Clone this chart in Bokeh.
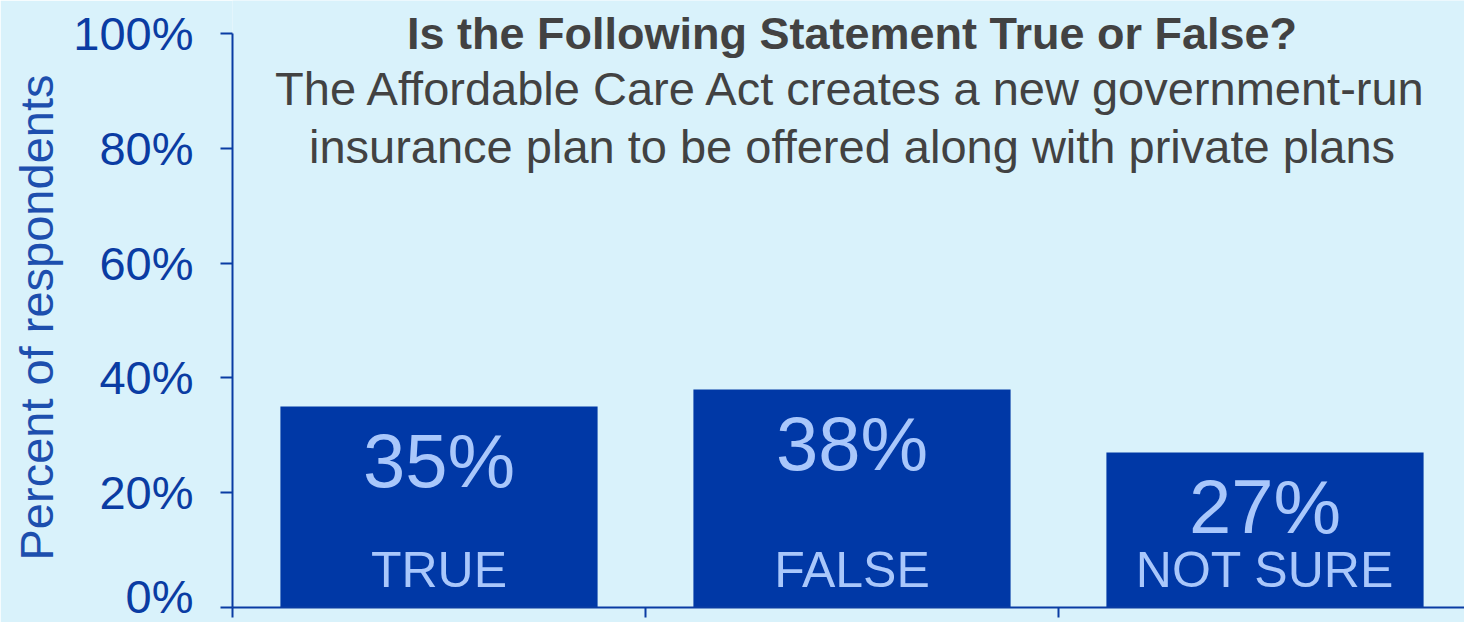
from bokeh.plotting import figure
from bokeh.models import Range1d, FixedTicker, ColumnDataSource, Title
from bokeh.core.properties import value
from bokeh.embed import file_html
from bokeh.resources import INLINE

# ---- data ----
categories = ["TRUE", "FALSE", "NOT SURE"]
percents = [35, 38, 27]
y_ticks = [0, 20, 40, 60, 80, 100]
y_tick_labels = ["0%", "20%", "40%", "60%", "80%", "100%"]
x_boundaries = [0, 1, 2, 3]
title_lines = [
    "Is the Following Statement True or False?",
    "The Affordable Care Act creates a new government-run",
    "insurance plan to be offered along with private plans",
]
y_axis_title = "Percent of respondents"

# ---- styles ----
BG = "#d9f2fb"
BAR = "#0038a6"
LIGHT = "#a9c7fb"
AXIS = "#0a3ca3"
TITLE = "#424242"
FONT = "Liberation Sans"

p = figure(
    width=1464, height=622,
    x_range=Range1d(0, 1232 / 413), y_range=Range1d(0, 105.75),
    output_backend="svg", toolbar_location=None,
    min_border_left=232, min_border_right=0, min_border_top=0, min_border_bottom=15,
)
p.outline_line_color = None
p.grid.visible = False
p.background_fill_color = BG
p.border_fill_color = BG

xs = [i + 0.5 for i in range(len(categories))]
src = ColumnDataSource(dict(
    x=xs, top=percents, cat=categories,
    lab=[f"{v}%" for v in percents],
    ly=[v - 9.4 for v in percents],
))
p.vbar(x="x", top="top", bottom=0, width=0.768, source=src,
       fill_color=BAR, line_color=None)
p.text(x="x", y="ly", text="lab", source=src, text_font=value(FONT),
       text_font_size="76px", text_color=LIGHT, text_align="center",
       text_baseline="middle")
p.text(x="x", y=6.5, text="cat", source=src, text_font=value(FONT),
       text_font_size="50px", text_color=LIGHT, text_align="center",
       text_baseline="middle")

# title lines
p.text(x=[1.5], y=[100], text=[title_lines[0]], text_font=value(FONT),
       text_font_style="bold", text_font_size="45px", text_color=TITLE,
       text_align="center", text_baseline="middle")
p.text(x=[1.5, 1.5], y=[90.4, 80.3], text=title_lines[1:], text_font=value(FONT),
       text_font_size="47px", text_color=TITLE,
       text_align="center", text_baseline="middle")

# y axis
ya = p.yaxis[0]
ya.ticker = FixedTicker(ticks=y_ticks)
ya.major_label_overrides = dict(zip(y_ticks, y_tick_labels))
ya.bounds = (0, 100)
ya.axis_line_color = AXIS
ya.axis_line_width = 2
ya.major_tick_line_color = AXIS
ya.major_tick_line_width = 2
ya.major_tick_out = 12
ya.major_tick_in = 0
ya.minor_tick_line_color = None
ya.major_label_text_font = FONT
ya.major_label_text_font_size = "47px"
ya.major_label_text_color = AXIS
ya.major_label_standoff = 27

# y axis title, placed along the 0-100 span
ytitle = Title(text=y_axis_title, align="left", offset=47, standoff=12,
               vertical_align="top",
               text_font=FONT, text_font_style="normal", text_font_size="47px",
               text_color="#1d4fae")
p.add_layout(ytitle, "left")

# x axis: only category boundary ticks, no labels
xa = p.xaxis[0]
xa.ticker = FixedTicker(ticks=[], minor_ticks=x_boundaries)
xa.axis_line_color = AXIS
xa.axis_line_width = 2
xa.major_tick_line_color = None
xa.minor_tick_line_color = AXIS
xa.minor_tick_line_width = 2
xa.minor_tick_out = 10
xa.minor_tick_in = 0

open("out.html", "w").write(file_html(p, INLINE))
